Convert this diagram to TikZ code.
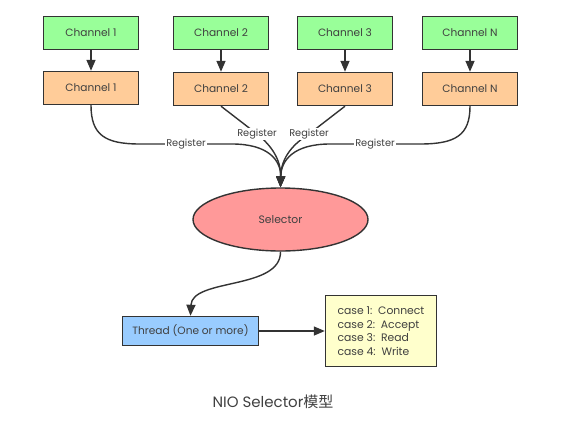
\documentclass[tikz,border=0pt]{standalone}
\usepackage{fontspec}
\setmainfont{Poppins}
\newfontfamily\cjkfont{Noto Sans CJK SC}
\usetikzlibrary{arrows.meta,shapes.geometric}
\definecolor{gfill}{HTML}{99FF99}
\definecolor{ofill}{HTML}{FFCC99}
\definecolor{pfill}{HTML}{FF9999}
\definecolor{bfill}{HTML}{99CCFF}
\definecolor{yfill}{HTML}{FFFFCC}
\definecolor{edge}{HTML}{333333}
\definecolor{txt}{HTML}{404040}
\tikzset{
  box/.style={draw=edge,line width=1.4pt,minimum width=95pt,minimum height=33pt,inner sep=0pt,font=\fontsize{10.6}{12}\selectfont,text=txt},
  gbox/.style={box,fill=gfill},
  obox/.style={box,fill=ofill},
  conn/.style={draw=edge,line width=1.4pt},
  arr/.style={conn,-{Triangle[length=11pt,width=9pt]}},
  lbl/.style={fill=white,inner sep=1pt,font=\fontsize{9.8}{11}\selectfont,text=txt},
}
\begin{document}
\begin{tikzpicture}[x=1pt,y=-1pt]
\useasboundingbox (0,0) rectangle (568,421);
% green channels
\node[gbox] (g1) at (91,33) {Channel 1};
\node[gbox] (g2) at (221,33) {Channel 2};
\node[gbox] (g3) at (345,33) {Channel 3};
\node[gbox] (gN) at (470,33) {Channel N};
% orange channels
\node[obox] (o1) at (91,88) {Channel 1};
\node[obox] (o2) at (221,89) {Channel 2};
\node[obox] (o3) at (345,89) {Channel 3};
\node[obox] (oN) at (470,89) {Channel N};
% selector
\node[ellipse,draw=edge,line width=1.4pt,fill=pfill,minimum width=175pt,minimum height=63pt,inner sep=0pt,font=\fontsize{10.8}{12}\selectfont,text=txt] (sel) at (280.5,219.5) {Selector};
% thread
\node[box,fill=bfill,minimum width=136pt,minimum height=29pt] (thr) at (190.5,331) {Thread (One or more)};
% cases
\node[box,fill=yfill,minimum width=111pt,minimum height=71pt,align=left,font=\fontsize{10.8}{13.7}\selectfont] (cas) at (381,331) {case 1:\ \ Connect\\case 2:\ \ Accept\\case 3:\ \ Read\\case 4:\ \ Write};
% title
\node[font=\fontsize{15}{17}\selectfont,text=txt] (title) at (273,402) {NIO Selector{\cjkfont 模型}};
% green -> orange
\draw[arr] (g1) -- (o1);
\draw[arr] (g2) -- (o2);
\draw[arr] (g3) -- (o3);
\draw[arr] (gN) -- (oN);
% register curves
\coordinate (r1a) at (140,144);
\coordinate (r1b) at (232,144);
\coordinate (r2) at (257,134);
\coordinate (r3) at (309,134);
\coordinate (rNa) at (420,144);
\coordinate (rNb) at (330,144);
\draw[arr] (o1.south) .. controls (91,135) and (105,144) .. (r1a) -- node[lbl]{Register} (r1b) .. controls (268,144) and (281,160) .. (sel.north);
\draw[arr] (oN.south) .. controls (470,135) and (456,144) .. (rNa) -- node[lbl]{Register} (rNb) .. controls (294,144) and (281,160) .. (sel.north);
\draw[arr] (o2.south) -- (r2) .. controls (272,146) and (281,160) .. (sel.north);
\draw[arr] (o3.south) -- (r3) .. controls (290,146) and (281,160) .. (sel.north);
\node[lbl] at (r2) {Register};
\node[lbl] at (r3) {Register};
% selector -> thread
\draw[arr] (sel.south) .. controls (281,290) and (192,278) .. (thr.north);
% thread -> cases
\draw[arr] (thr.east) -- (cas.west);
\end{tikzpicture}
\end{document}
